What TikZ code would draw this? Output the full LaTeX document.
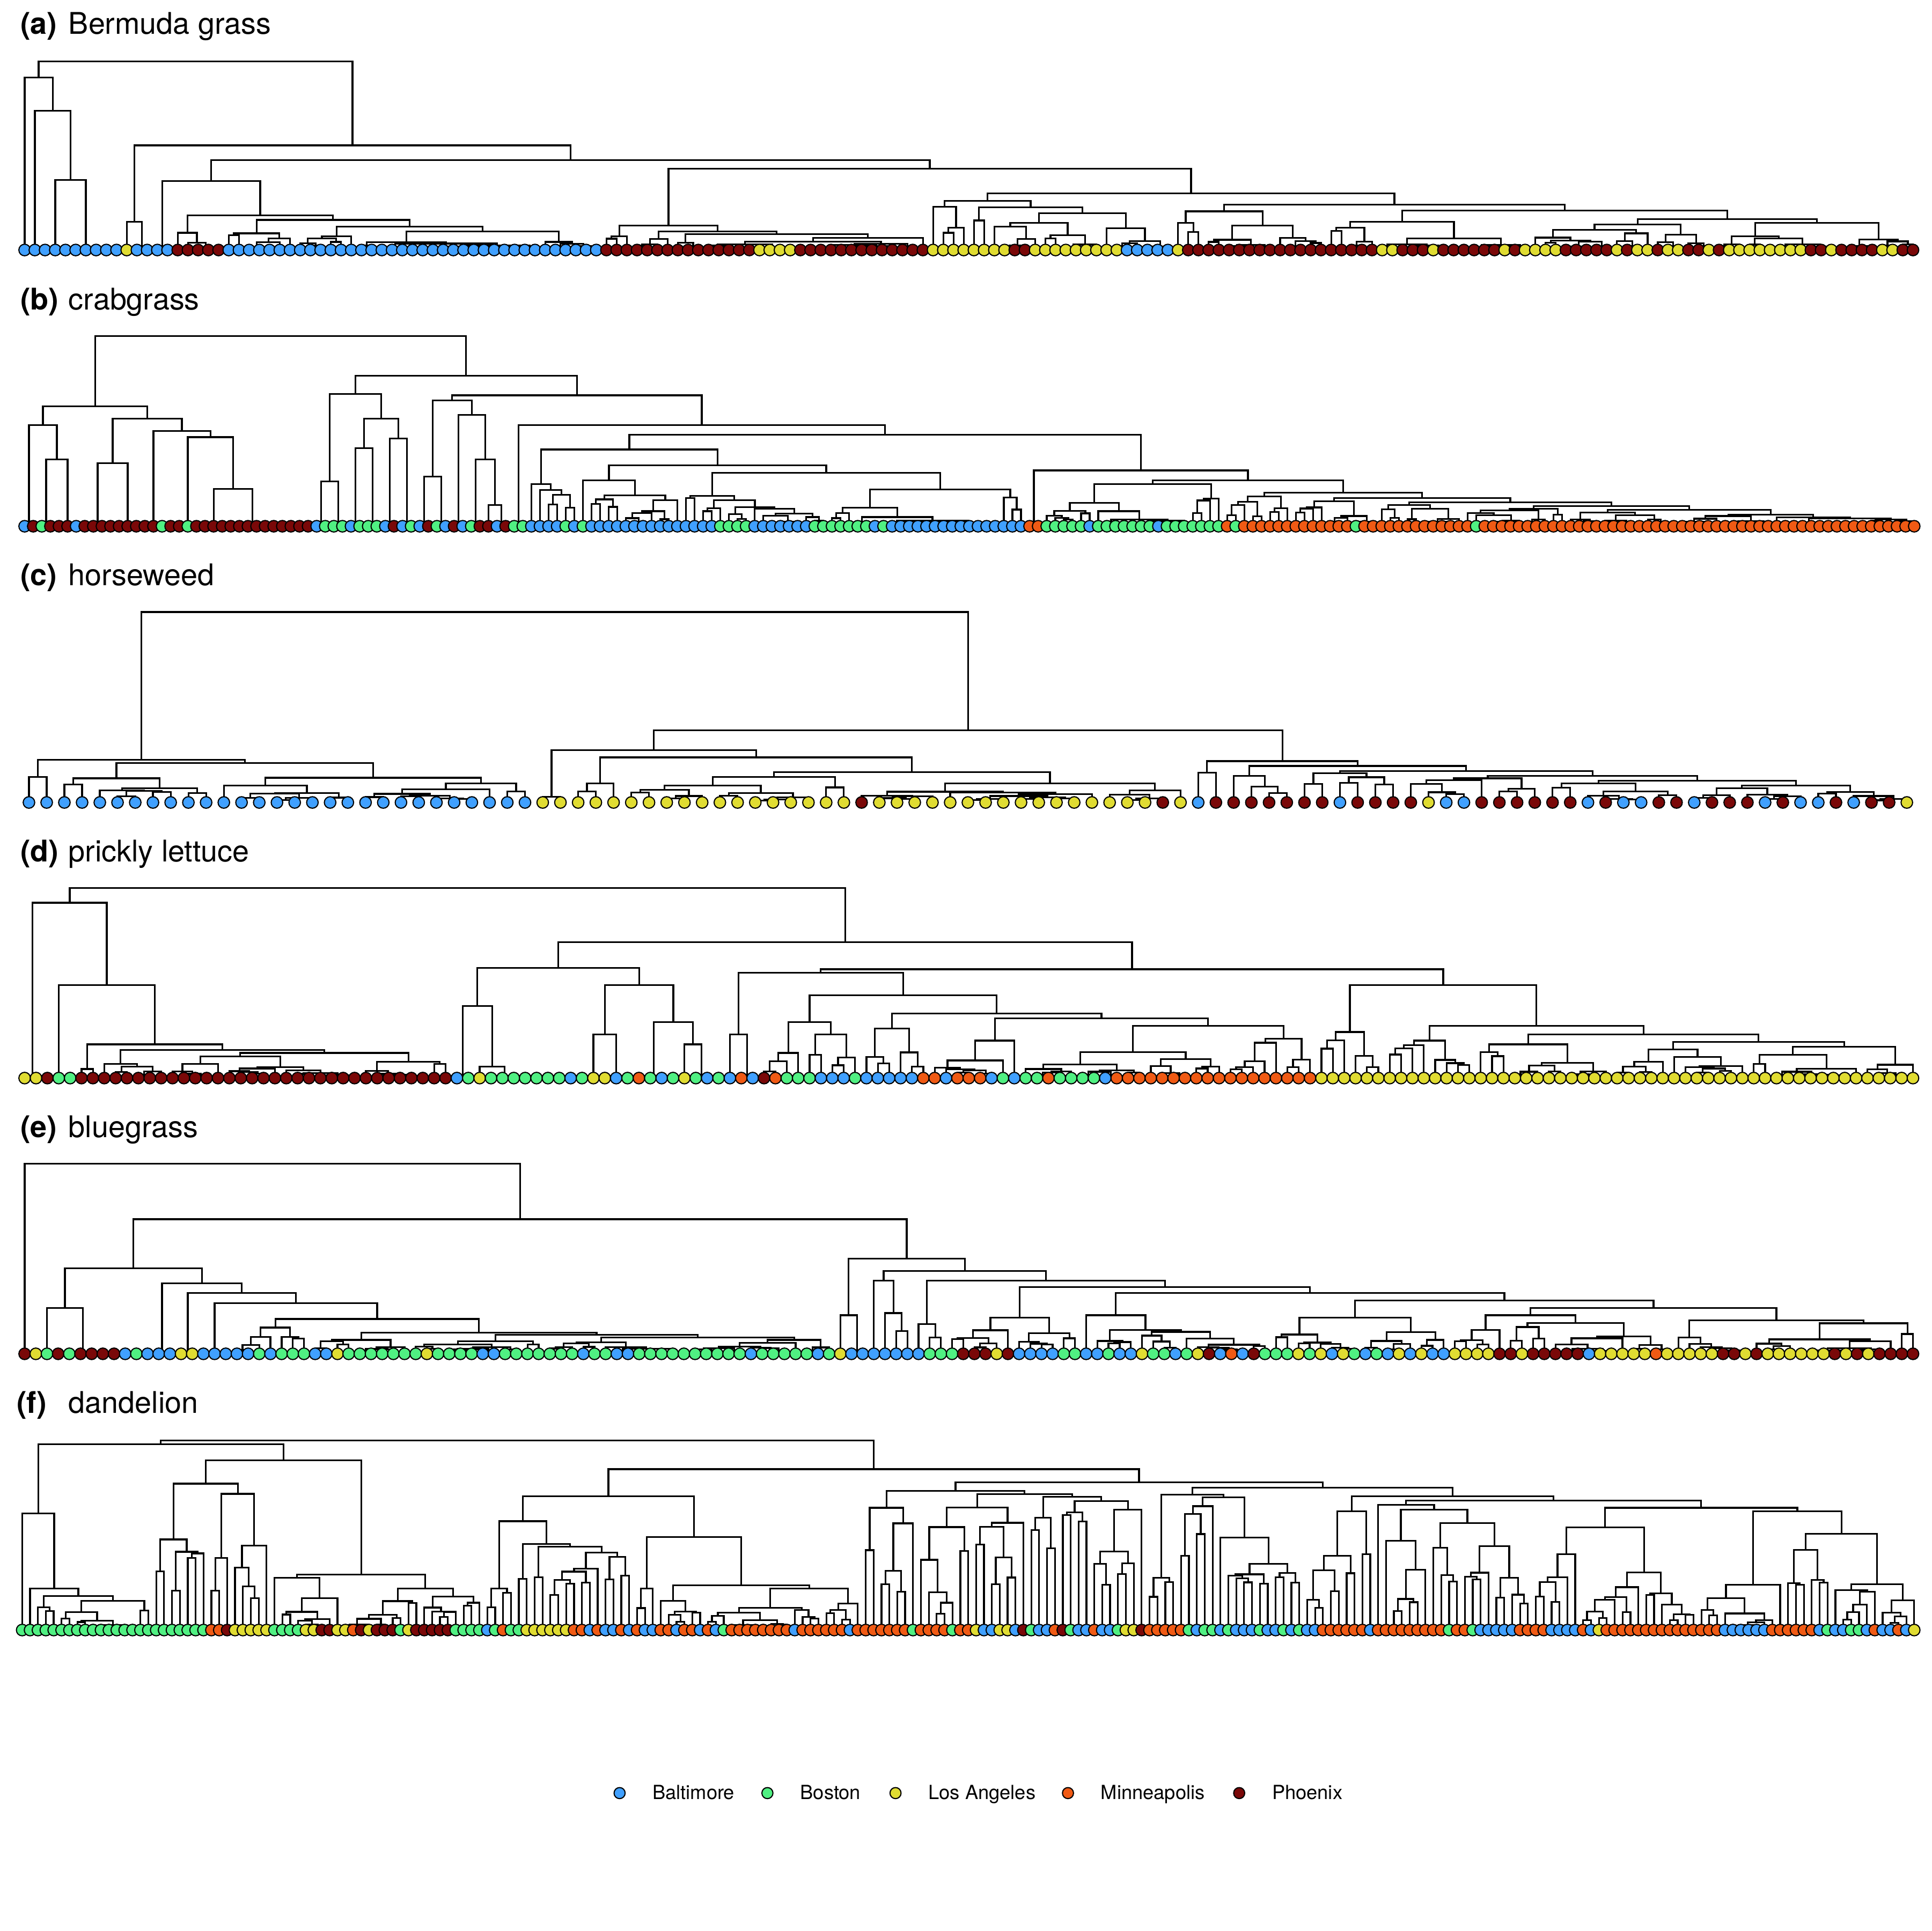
\documentclass[tikz,border=0pt]{standalone}
\usepackage{fontspec}
\setmainfont{TeX Gyre Heros}
\usetikzlibrary{calc}
\definecolor{cB}{RGB}{64,160,255}
\definecolor{cG}{RGB}{80,240,130}
\definecolor{cY}{RGB}{224,220,50}
\definecolor{cO}{RGB}{240,90,20}
\definecolor{cR}{RGB}{122,8,8}
\tikzset{
  tree/.style={line width=0.14mm},
  leafdot/.style={draw=black, line width=0.09mm},
  ptitle/.style={anchor=base west, inner sep=0pt, font=\fontsize{6.9}{8}\selectfont},
  legtext/.style={anchor=base west, inner sep=0pt, font=\fontsize{4.5}{5.5}\selectfont},
}
\newcount\lfi
\def\dlo{0.4}\def\dhi{0.92}
\newcommand\setpanel[4]{\def\Yb{#1}\def\XO{#2}\def\DX{#3}\def\Pn{#4}}
% #1 = 0: define leaf coordinates, 1: draw leaf dots; #2 = list macro
\newcommand\leafpass[2]{%
  \global\lfi=0
  \foreach \lcol/\lnum in #2{%
    \foreach \k in {1,...,\lnum}{%
      \global\advance\lfi by 1
      \pgfmathsetmacro\lx{\XO+(\the\lfi-1)*\DX}%
      \ifnum#1=0
        \edef\lid{\Pn-l\the\lfi}%
        \coordinate (\lid) at (\lx,\Yb);
      \else
        \fill[c\lcol, leafdot] (\lx,\Yb) circle[radius=0.47mm];
      \fi
    }%
  }%
}
\newcommand\rtree[3]{%
  \begingroup
  \edef\ra{#1}\edef\rb{#2}\edef\hh{#3}%
  \ifnum\ra=\rb\relax
    \pgfmathsetmacro\tx{\XO+(\ra-1)*\DX}\xdef\resx{\tx}%
  \else
    \pgfmathtruncatemacro\nn{\rb-\ra+1}%
    \pgfmathrandominteger{\kk}{1}{\nn-1}%
    \pgfmathtruncatemacro\mm{\ra+\kk-1}%
    \pgfmathtruncatemacro\mmp{\mm+1}%
    \pgfmathtruncatemacro\kr{\nn-\kk}%
    \ifnum\kk=1 \def\hl{0}\else\pgfmathsetmacro\hl{\hh*(\dlo+(\dhi-\dlo)*rnd)}\fi
    \ifnum\kr=1 \def\hr{0}\else\pgfmathsetmacro\hr{\hh*(\dlo+(\dhi-\dlo)*rnd)}\fi
    \rtree{\ra}{\mm}{\hl}\let\xl\resx
    \rtree{\mmp}{\rb}{\hr}\let\xr\resx
    \draw[tree] (\xl,\Yb-\hl) -- (\xl,\Yb-\hh) -- (\xr,\Yb-\hh) -- (\xr,\Yb-\hr);
    \pgfmathsetmacro\tx{(\xl+\xr)/2}\xdef\resx{\tx}%
  \fi
  \endgroup}
\newcommand\gen[4]{%
  \pgfmathsetmacro\gh{\Yb-(#3)}%
  \rtree{#1}{#2}{\gh}%
  \coordinate (\Pn-#4) at (\resx,#3);}
\newcommand\grp[4]{%
  \pgfmathsetmacro\ga{\XO+(#1-1)*\DX}\pgfmathsetmacro\gb{\XO+(#2-1)*\DX}\pgfmathsetmacro\gc{\XO+(#3-1)*\DX}%
  \draw[tree] (\ga,\Yb-2) -- (\gb,\Yb-2);
  \coordinate (\Pn-#4) at (\gc,\Yb-2);}
\newcommand\br[4]{%
  \path let \p1=(\Pn-#1), \p2=(\Pn-#2), \p3=(0,#3) in coordinate (\Pn-#4) at ({0.5*\x1+0.5*\x2},\y3);
  \draw[tree] (\Pn-#1) |- (\Pn-#4) -| (\Pn-#2);}

\def\rleA{B/10,Y/1,B/4,R/5,B/37,R/15,Y/4,R/13,Y/8,R/2,Y/9,B/5,Y/1,R/19,Y/2,R/3,Y/1,R/6,Y/1,R/1,Y/4,R/5,Y/1,R/1,Y/2,R/1,Y/2,R/2,Y/1,R/1,Y/8,R/2,Y/1,R/4,Y/2,R/2}
\def\rleB{B/1,R/1,G/1,R/3,B/1,R/9,G/1,R/2,G/1,R/14,B/1,G/3,B/1,G/3,B/1,R/1,B/1,G/1,B/1,R/1,G/1,B/1,R/1,B/1,G/1,R/2,B/1,R/1,G/2,B/4,G/1,B/1,G/1,B/15,G/4,B/7,G/7,B/1,G/1,B/9,B/7,O/2,G/5,B/1,G/7,B/1,G/7,O/1,G/1,O/13,G/1,O/13,G/1,O/51}
\def\rleC{B/29,Y/18,R/1,Y/16,R/1,Y/1,B/1,R/7,B/1,R/4,Y/1,B/2,R/6,B/1,R/1,B/2,R/2,B/1,R/3,B/1,R/1,B/2,R/1,B/1,R/2,Y/1}
\def\rleD{Y/2,R/1,G/2,R/33,B/1,G/1,Y/1,G/7,B/1,G/1,Y/2,B/1,G/1,O/1,G/1,B/1,G/1,Y/1,G/1,B/1,G/1,B/1,O/1,B/1,R/1,O/1,G/3,B/3,G/1,B/5,O/2,B/1,O/3,B/1,G/1,B/1,G/2,O/1,G/4,B/1,O/18,Y/53}
\def\rleE{R/1,Y/1,G/1,R/1,G/1,R/4,B/1,G/1,B/3,Y/2,B/5,G/1,B/1,G/3,B/2,Y/1,G/7,Y/1,G/4,B/2,G/7,B/1,G/2,B/2,G/10,B/1,G/5,B/1,G/1,Y/1,B/7,G/3,R/3,Y/1,R/1,B/4,G/2,B/2,G/1,B/2,Y/1,G/2,B/1,G/1,Y/1,R/1,B/1,O/1,B/1,R/1,G/3,Y/1,G/1,Y/1,B/1,Y/1,G/1,B/1,G/1,B/1,Y/1,B/1,Y/1,B/2,Y/4,R/2,Y/1,R/5,B/1,Y/5,O/1,Y/5,R/2,Y/1,R/1,Y/6,R/1,Y/1,R/1,Y/1,R/4}
\def\rleF{G/24,O/2,R/1,Y/5,G/4,Y/2,R/2,Y/2,O/1,R/1,Y/1,R/3,G/1,Y/1,R/5,G/4,B/1,G/1,O/1,G/2,Y/6,O/2,B/1,O/1,B/2,O/1,B/1,O/1,B/2,O/2,B/1,O/2,B/1,O/1,B/1,G/1,O/8,B/1,O/6,B/1,O/7,G/1,O/4,G/1,O/1,O/1,Y/1,B/2,Y/2,B/1,R/1,G/1,B/2,O/1,R/1,G/1,B/2,O/1,B/2,G/1,Y/2,R/1,O/5,G/1,B/1,G/2,B/1,G/1,B/3,G/1,B/2,G/1,B/1,G/1,B/2,O/6,B/1,O/9,G/1,O/2,G/1,B/5,O/4,B/4,O/1,B/1,Y/1,O/15,B/6,O/6,B/1,G/1,B/2,G/2,B/1,O/1,B/2,O/1,B/1,Y/1}

\begin{document}
\begin{tikzpicture}[x=0.1mm,y=-0.1mm]
\useasboundingbox (0,0) rectangle (1568,1568);
\pgfmathsetseed{20}

% ---------------- titles
\foreach \k/\lab/\nm/\lx in {0/a/Bermuda grass/16,1/b/crabgrass/16,2/c/horseweed/16,3/d/prickly lettuce/16,4/e/bluegrass/16,5/f/dandelion/13}{
  \node[ptitle] (lab\lab) at (\lx,27.5+224*\k) {\bfseries (\lab)};
  \node[ptitle] (name\lab) at (55,27.5+224*\k) {\nm};
}

% ---------------- panel a
\setpanel{203}{20}{8.2865}{a}
\def\dlo{0.35}\def\dhi{0.9}
\leafpass{0}{\rleA}
\grp{3}{5}{4}{g35}
\grp{6}{10}{7}{g610}
\br{g35}{g610}{146}{n3}
\br{l2}{n3}{90}{n2}
\br{l1}{n2}{63}{n1}
\grp{12}{13}{12.5}{g1213}
\br{l11}{g1213}{180}{r1}
\grp{14}{15}{14.5}{g1415}
\gen{17}{20}{197}{g1720}
\br{l16}{g1720}{189}{r1620}
\gen{21}{27}{189.5}{b1}
\gen{28}{33}{192}{b2a}
\gen{34}{57}{188}{b2b}
\br{b2a}{b2b}{184}{b2}
\br{b1}{b2}{178.6}{b3}
\br{r1620}{b3}{175}{r5}
\br{g1415}{r5}{147}{r3}
\gen{58}{60}{192}{r6a}
\gen{61}{64}{194}{r6b1}
\gen{65}{89}{190}{r6b2}
\br{r6b1}{r6b2}{188}{r6b}
\br{r6a}{r6b}{183}{r6}
\gen{91}{93}{185}{a91}
\br{l90}{a91}{168}{rA}
\br{l94}{l95}{179}{g9495}
\gen{96}{113}{173}{rC}
\br{g9495}{rC}{168.5}{rB}
\br{rA}{rB}{163}{r7L}
\gen{114}{128}{171.6}{rD}
\gen{129}{148}{180}{rE1}
\gen{149}{186}{178}{rE2}
\br{rE1}{rE2}{171}{rE}
\br{rD}{rE}{166}{r7R}
\br{r7L}{r7R}{157}{r7}
\br{r6}{r7}{137}{r4}
\br{r3}{r4}{130}{r2}
\br{r1}{r2}{118}{rR}
\br{n1}{rR}{50}{root}
\leafpass{1}{\rleA}

% ---------------- panel b
\setpanel{427.3}{20}{6.9727}{b}
\def\dlo{0.4}\def\dhi{0.95}
\leafpass{0}{\rleB}
\grp{1}{2}{1.5}{g1}
\grp{3}{4}{3.5}{g2}
\grp{5}{7}{6}{g3}
\br{g2}{g3}{373}{n45}
\br{g1}{n45}{345}{n34}
\grp{8}{11}{9.5}{g4}
\grp{12}{14}{13}{g5}
\br{g4}{g5}{376}{n90}
\grp{15}{17}{16}{g6}
\grp{18}{22}{20}{g7}
\grp{24}{34}{27.5}{g9}
\br{l23}{g9}{397}{n188}
\br{g7}{n188}{355}{n169}
\br{g6}{n169}{350}{n146}
\br{n90}{n146}{340}{n118}
\br{n34}{n118}{330}{nL}
\grp{35}{36}{35.5}{h1}
\grp{37}{38}{37.5}{h2}
\br{h1}{h2}{391}{n266}
\grp{39}{40}{39.5}{h3}
\grp{41}{42}{41.5}{h4}
\br{h3}{h4}{364}{n294}
\grp{43}{44}{43.5}{h5}
\grp{45}{46}{45.5}{h6}
\br{h5}{h6}{356}{n321}
\br{n294}{n321}{340}{n307}
\br{n266}{n307}{320}{n287}
\grp{47}{48}{47.5}{h7}
\grp{49}{50}{49.5}{h8}
\br{h7}{h8}{387}{n351}
\grp{51}{52}{51.5}{h9}
\grp{53}{54}{53.5}{h10}
\grp{56}{57}{56.5}{h11b}
\br{l55}{h11b}{410}{h11}
\br{h10}{h11}{373}{n392}
\br{h9}{n392}{337}{n382}
\br{n351}{n382}{325}{n367}
\grp{58}{59}{58.5}{h12}
\gen{60}{65}{393}{k1}
\gen{66}{77}{390}{k2a}
\gen{78}{117}{384}{k2b}
\br{k2a}{k2b}{378}{k2}
\br{k1}{k2}{365}{k512}
\grp{118}{119}{118.5}{k3}
\gen{120}{140}{393}{k4}
\gen{141}{148}{403}{c1}
\gen{149}{158}{407}{c2}
\gen{159}{168}{410}{c3}
\gen{169}{180}{413}{c4}
\gen{181}{192}{416}{c5}
\gen{193}{204}{419}{c6}
\gen{205}{221}{420}{c7}
\br{c6}{c7}{418}{t6}
\br{c5}{t6}{414}{t5}
\br{c4}{t5}{411}{t4}
\br{c3}{t4}{408}{t3}
\br{c2}{t3}{404.5}{t2}
\br{c1}{t2}{400}{t1}
\br{k4}{t1}{390}{n975}
\br{k3}{n975}{382}{n906}
\br{k512}{n906}{353}{n708}
\br{h12}{n708}{345}{n565}
\br{n367}{n565}{321}{n466}
\br{n287}{n466}{305}{n376}
\br{nL}{n376}{273}{root}
\leafpass{1}{\rleB}

% ---------------- panel c
\setpanel{651.6}{23.5}{14.3821}{c}
\def\dlo{0.5}\def\dhi{0.95}
\leafpass{0}{\rleC}
\br{l1}{l2}{631}{c12}
\br{l3}{l4}{637}{c34}
\gen{5}{11}{640}{c511}
\br{c34}{c511}{632}{cLL}
\gen{12}{19}{638}{cR1}
\gen{20}{29}{636}{cR2}
\br{cR1}{cR2}{631.5}{cRR}
\br{cLL}{cRR}{619.5}{c185}
\br{c12}{c185}{617}{c108}
\br{l30}{l31}{647}{c30}
\gen{32}{34}{636}{c3234}
\gen{35}{47}{631}{c3547}
\gen{48}{66}{636}{c4866}
\br{c3547}{c4866}{627}{cM}
\br{c3234}{cM}{615}{c563}
\br{c30}{c563}{609}{c505}
\br{l67}{l68}{627.5}{c67}
\gen{69}{72}{630}{d1}
\gen{73}{78}{628}{d2}
\gen{79}{86}{632}{d3}
\gen{87}{94}{636}{d4}
\gen{95}{101}{640}{d5}
\gen{102}{107}{643}{d6}
\br{d5}{d6}{638}{s5}
\br{d4}{s5}{634}{s4}
\br{d3}{s4}{630}{s3}
\br{d2}{s3}{626}{s2}
\br{d1}{s2}{622}{s1}
\br{c67}{s1}{618}{c1013}
\br{c505}{c1013}{593}{c758}
\br{c108}{c758}{497}{root}
\leafpass{1}{\rleC}

% ---------------- panel d
\setpanel{875.4}{20}{9.2349}{d}
\def\dlo{0.4}\def\dhi{0.92}
\leafpass{0}{\rleD}
\grp{1}{3}{1.7}{d1}
\grp{4}{5}{4}{d2}
\br{l6}{l7}{868}{d3}
\gen{8}{13}{864}{d813}
\gen{14}{38}{855}{d1438}
\br{d813}{d1438}{852.6}{d150}
\br{d3}{d150}{848}{d110}
\br{d2}{d110}{800}{d78}
\br{d1}{d78}{733}{d52}
\grp{39}{40}{39.5}{d3940}
\grp{42}{48}{43.2}{d4248}
\br{l41}{d4248}{866}{d41}
\br{d3940}{d41}{817}{d388}
\grp{49}{51}{51}{d4951}
\grp{52}{54}{53}{d5254}
\br{d4951}{d5254}{840}{d490}
\grp{60}{62}{60.5}{d6062}
\br{l59}{d6062}{848}{d562}
\grp{55}{58}{56.3}{d5558}
\br{d5558}{d562}{830}{d545}
\br{d490}{d545}{800}{d517}
\br{d388}{d517}{786}{d453}
\grp{64}{65}{64.5}{d6465}
\br{l63}{d6465}{840}{d598}
\gen{66}{69}{855}{d6669}
\gen{70}{74}{840}{d7074}
\br{d6669}{d7074}{830}{d655}
\gen{75}{80}{835}{d7580}
\gen{81}{88}{845}{d8188}
\gen{89}{114}{833}{d89}
\br{d8188}{d89}{827}{d870}
\br{d7580}{d870}{823}{d766}
\br{d655}{d766}{808}{d710}
\br{d598}{d710}{790}{d654}
\gen{115}{120}{838}{d1083}
\gen{121}{128}{845}{e1}
\gen{129}{140}{848}{e2}
\gen{141}{152}{852}{e3}
\gen{153}{167}{850}{e4}
\br{e3}{e4}{846}{u3}
\br{e2}{u3}{840}{u2}
\br{e1}{u2}{833}{u1}
\br{d1083}{u1}{800}{d1138}
\br{d654}{d1138}{787}{d897}
\br{d453}{d897}{765}{d675}
\br{d52}{d675}{721}{root}
\leafpass{1}{\rleD}

% ---------------- panel e
\setpanel{1099.3}{20}{9.0710}{e}
\def\dlo{0.45}\def\dhi{0.95}
\leafpass{0}{\rleE}
\grp{2}{4}{3}{e24}
\grp{5}{8}{6.2}{e58}
\br{e24}{e58}{1062}{e52}
\grp{9}{14}{13.3}{e914}
\grp{15}{16}{15.6}{e1516}
\grp{17}{19}{18}{e1719}
\gen{20}{26}{1078}{e2026}
\gen{27}{35}{1088}{f1}
\gen{36}{47}{1089}{f2}
\gen{48}{60}{1090}{f3}
\gen{61}{73}{1088}{f4}
\br{f3}{f4}{1086}{w3}
\br{f2}{w3}{1084}{w2}
\br{f1}{w2}{1082}{w1}
\br{e2026}{w1}{1071}{e247}
\br{e1719}{e247}{1058}{e260}
\br{e1516}{e260}{1050}{e206}
\br{e914}{e206}{1042}{e166}
\br{e52}{e166}{1030}{e108}
\grp{75}{76}{75.5}{e7576}
\br{l74}{e7576}{1068}{e688}
\gen{77}{80}{1040}{e713}
\gen{81}{83}{1075}{g1}
\gen{84}{95}{1070}{g2}
\gen{96}{112}{1068}{g3}
\gen{113}{128}{1070}{g4}
\gen{129}{148}{1068}{g5}
\gen{149}{170}{1072}{g6}
\br{g5}{g6}{1062}{v5}
\br{g4}{v5}{1056}{v4}
\br{g3}{v4}{1050}{v3}
\br{g2}{v3}{1045}{v2}
\br{g1}{v2}{1040}{v1}
\br{e713}{v1}{1032}{e768}
\br{e688}{e768}{1022}{e728}
\br{e108}{e728}{990}{e418}
\br{l1}{e418}{945}{root}
\leafpass{1}{\rleE}

% ---------------- panel f
\setpanel{1323.6}{18}{6.4}{f}
\def\dlo{0.5}\def\dhi{0.98}
\leafpass{0}{\rleF}
\gen{3}{5}{1305}{f35}
\gen{6}{17}{1300}{f617}
\br{f35}{f617}{1296}{f49}
\br{l2}{f49}{1290}{f37}
\br{l1}{f37}{1229}{f28}
\gen{18}{19}{1276}{f1819}
\gen{20}{24}{1260}{f2024}
\br{f1819}{f2024}{1250}{f141}
\gen{25}{27}{1265}{f2527}
\gen{28}{32}{1255}{f2832}
\br{f2527}{f2832}{1213}{f193}
\br{f141}{f193}{1204.7}{f167}
\gen{33}{41}{1281}{f3341}
\gen{42}{59}{1290}{f4259}
\br{f3341}{f4259}{1278.4}{f291}
\br{f167}{f291}{1185.7}{f230}
\br{f28}{f230}{1172.6}{fL}
\gen{60}{63}{1290}{f408}
\gen{64}{65}{1282}{f6465}
\gen{66}{78}{1256}{f6678}
\br{f6465}{f6678}{1253.6}{f436}
\br{f408}{f436}{1235.2}{f422}
\gen{79}{81}{1290}{f7981}
\gen{82}{87}{1300}{f8287}
\gen{88}{107}{1290}{f88}
\br{f8287}{f88}{1287.4}{f588}
\br{f7981}{f588}{1248}{f555}
\br{f422}{f555}{1214.9}{f488}
\gen{108}{109}{1258.7}{f108}
\gen{110}{114}{1237}{f110}
\br{f108}{f110}{1224.3}{f718}
\gen{115}{121}{1240}{f115}
\gen{122}{128}{1236.5}{f122}
\br{f115}{f122}{1224}{f788}
\gen{129}{132}{1232.5}{f129}
\gen{133}{136}{1228}{f133}
\gen{137}{143}{1226}{f137}
\br{f133}{f137}{1219}{f890}
\br{f129}{f890}{1215.5}{f868}
\br{f788}{f868}{1213.3}{f828}
\br{f718}{f828}{1210.7}{f773}
\gen{144}{147}{1281}{f144}
\gen{148}{152}{1223}{f148}
\gen{153}{163}{1248.5}{f153}
\br{f148}{f153}{1216}{f1005}
\br{f144}{f1005}{1213.5}{f975}
\gen{164}{172}{1227}{f1089}
\gen{173}{192}{1221.8}{f1180}
\gen{193}{213}{1240.3}{f1302}
\gen{214}{224}{1287}{f1417}
\gen{225}{230}{1258.5}{f1471}
\gen{231}{241}{1286.5}{f1508}
\br{f1471}{f1508}{1245.6}{f1489}
\br{f1417}{f1489}{1227}{f1453}
\br{f1302}{f1453}{1224.3}{f1378}
\br{f1180}{f1378}{1218.6}{f1279}
\br{f1089}{f1279}{1215}{f1184}
\br{f975}{f1184}{1208}{f1080}
\br{f773}{f1080}{1203.8}{f927}
\br{f488}{f927}{1193}{f708}
\br{fL}{f708}{1169.8}{root}
\leafpass{1}{\rleF}

% ---------------- legend
\foreach \xx/\cc/\lt [count=\i] in {503/B/Baltimore,623/G/Boston,727/Y/Los Angeles,867/O/Minneapolis,1006/R/Phoenix}{
  \coordinate (legdot\i) at (\xx,1456);
  \fill[c\cc, leafdot] (legdot\i) circle[radius=0.45mm];
  \node[legtext] (leg\i) at (\xx+26,1461) {\lt};
}
\end{tikzpicture}
\end{document}
